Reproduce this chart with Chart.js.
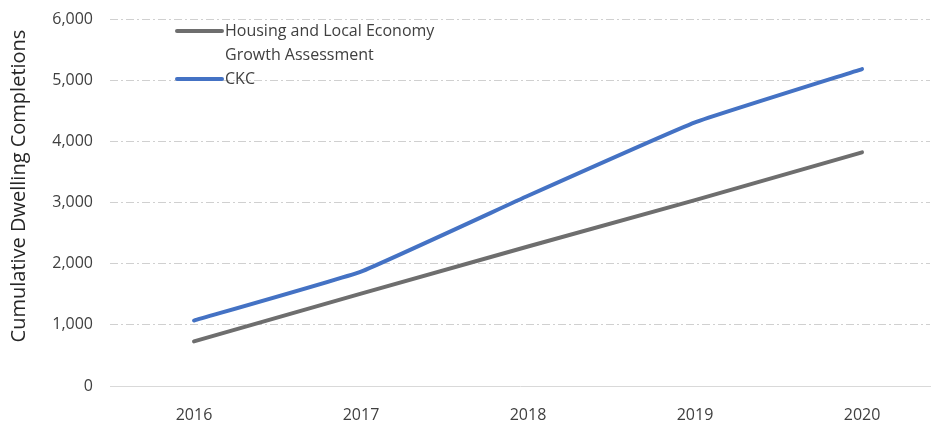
<!DOCTYPE html>
<html>
<head>
<meta charset="utf-8">
<script src="https://cdn.jsdelivr.net/npm/chart.js@4.4.0/dist/chart.umd.min.js"></script>
<style>
    html, body { margin: 0; padding: 0; background: #fff; overflow: hidden; }
    #khung { width: 934px; height: 421px; }
</style>
</head>
<body>
<div id="khung"><canvas id="bieuDo"></canvas></div>
<script>
// các năm trên trục ngang
const nam = [2016, 2017, 2018, 2019, 2020];

// số nhà hoàn thành cộng dồn
const hoanThanhHLEGA = [730, 1510, 2280, 3040, 3820];
const hoanThanhCKC = [1070, 1870, 3110, 4310, 5180];

// nhãn trục tung
const mocTrucTung = [0, 1000, 2000, 3000, 4000, 5000, 6000];

const tenChuoi = [
    ["Housing and Local Economy", "Growth Assessment"],
    ["CKC"],
];
const tieuDeTrucTung = "Cumulative Dwelling Completions";

const mauXam = "#6e6e6e";
const mauXanh = "#4472c4";
const mauChu = "#404040";
const phongChu = "'Open Sans', 'Liberation Sans', sans-serif";

function taoDiem(gt) {
    return nam.map((n, i) => ({ x: n, y: gt[i] }));
}

// vẽ chú thích bên trong vùng đồ thị, chữ xuống dòng được
const chuThich = {
    id: "chuThich",
    afterDatasetsDraw(chart) {
        const ctx = chart.ctx;
        const x0 = 177;
        let y = 31;
        ctx.save();
        ctx.font = "16px " + phongChu;
        ctx.textBaseline = "middle";
        ctx.textAlign = "left";
        chart.data.datasets.forEach((ds) => {
            ctx.strokeStyle = ds.borderColor;
            ctx.lineWidth = 4;
            ctx.lineCap = "round";
            ctx.beginPath();
            ctx.moveTo(x0, y);
            ctx.lineTo(x0 + 45, y);
            ctx.stroke();
            ctx.fillStyle = mauChu;
            ds.label.forEach((dong, k) => {
                ctx.fillText(dong, x0 + 48, y + k * 24);
            });
            y += ds.label.length * 24;
        });
        ctx.restore();
    },
};

// tiêu đề trục tung, xoay dọc
const tieuDeDoc = {
    id: "tieuDeDoc",
    afterDraw(chart) {
        const ctx = chart.ctx;
        ctx.save();
        ctx.translate(19, 186);
        ctx.rotate(-Math.PI / 2);
        ctx.font = "20px " + phongChu;
        ctx.fillStyle = "#262626";
        ctx.textAlign = "center";
        ctx.textBaseline = "middle";
        ctx.fillText(tieuDeTrucTung, 0, 0);
        ctx.restore();
    },
};

const ctx = document.getElementById("bieuDo").getContext("2d");

new Chart(ctx, {
    type: "line",
    data: {
        datasets: [
            {
                label: tenChuoi[0],
                data: taoDiem(hoanThanhHLEGA),
                borderColor: mauXam,
                borderWidth: 4,
                pointRadius: 0,
                borderCapStyle: "round",
                tension: 0,
            },
            {
                label: tenChuoi[1],
                data: taoDiem(hoanThanhCKC),
                borderColor: mauXanh,
                borderWidth: 4,
                pointRadius: 0,
                borderCapStyle: "round",
                tension: 0.1,
            },
        ],
    },
    options: {
        responsive: true,
        maintainAspectRatio: false,
        animation: false,
        layout: {
            padding: { top: 19, right: 4, bottom: 0, left: 0 },
        },
        plugins: {
            legend: { display: false },
            tooltip: { enabled: false },
        },
        scales: {
            x: {
                type: "linear",
                min: 2015.497,
                max: 2020.407,
                afterFit(scale) {
                    scale.height = 35;
                },
                ticks: {
                    stepSize: 1,
                    includeBounds: false,
                    color: mauChu,
                    font: { family: phongChu, size: 16 },
                    padding: 12,
                    maxRotation: 0,
                    callback: (v) => String(v),
                },
                grid: { display: false },
                border: { display: true, color: "#d9d9d9", width: 1 },
            },
            y: {
                min: 0,
                max: 6000,
                afterFit(scale) {
                    scale.width = 110;
                    scale.paddingTop = 0;
                    scale.paddingBottom = 0;
                },
                afterBuildTicks(scale) {
                    scale.ticks = mocTrucTung.map((v) => ({ value: v }));
                },
                ticks: {
                    color: mauChu,
                    font: { family: phongChu, size: 16 },
                    padding: 17,
                    callback: (v) => v.toLocaleString("en-US"),
                },
                grid: {
                    color: "#d0d0d0",
                    lineWidth: 1,
                    drawTicks: false,
                },
                border: { display: false, dash: [8, 3, 2, 3] },
            },
        },
    },
    plugins: [chuThich, tieuDeDoc],
});
</script>
</body>
</html>
